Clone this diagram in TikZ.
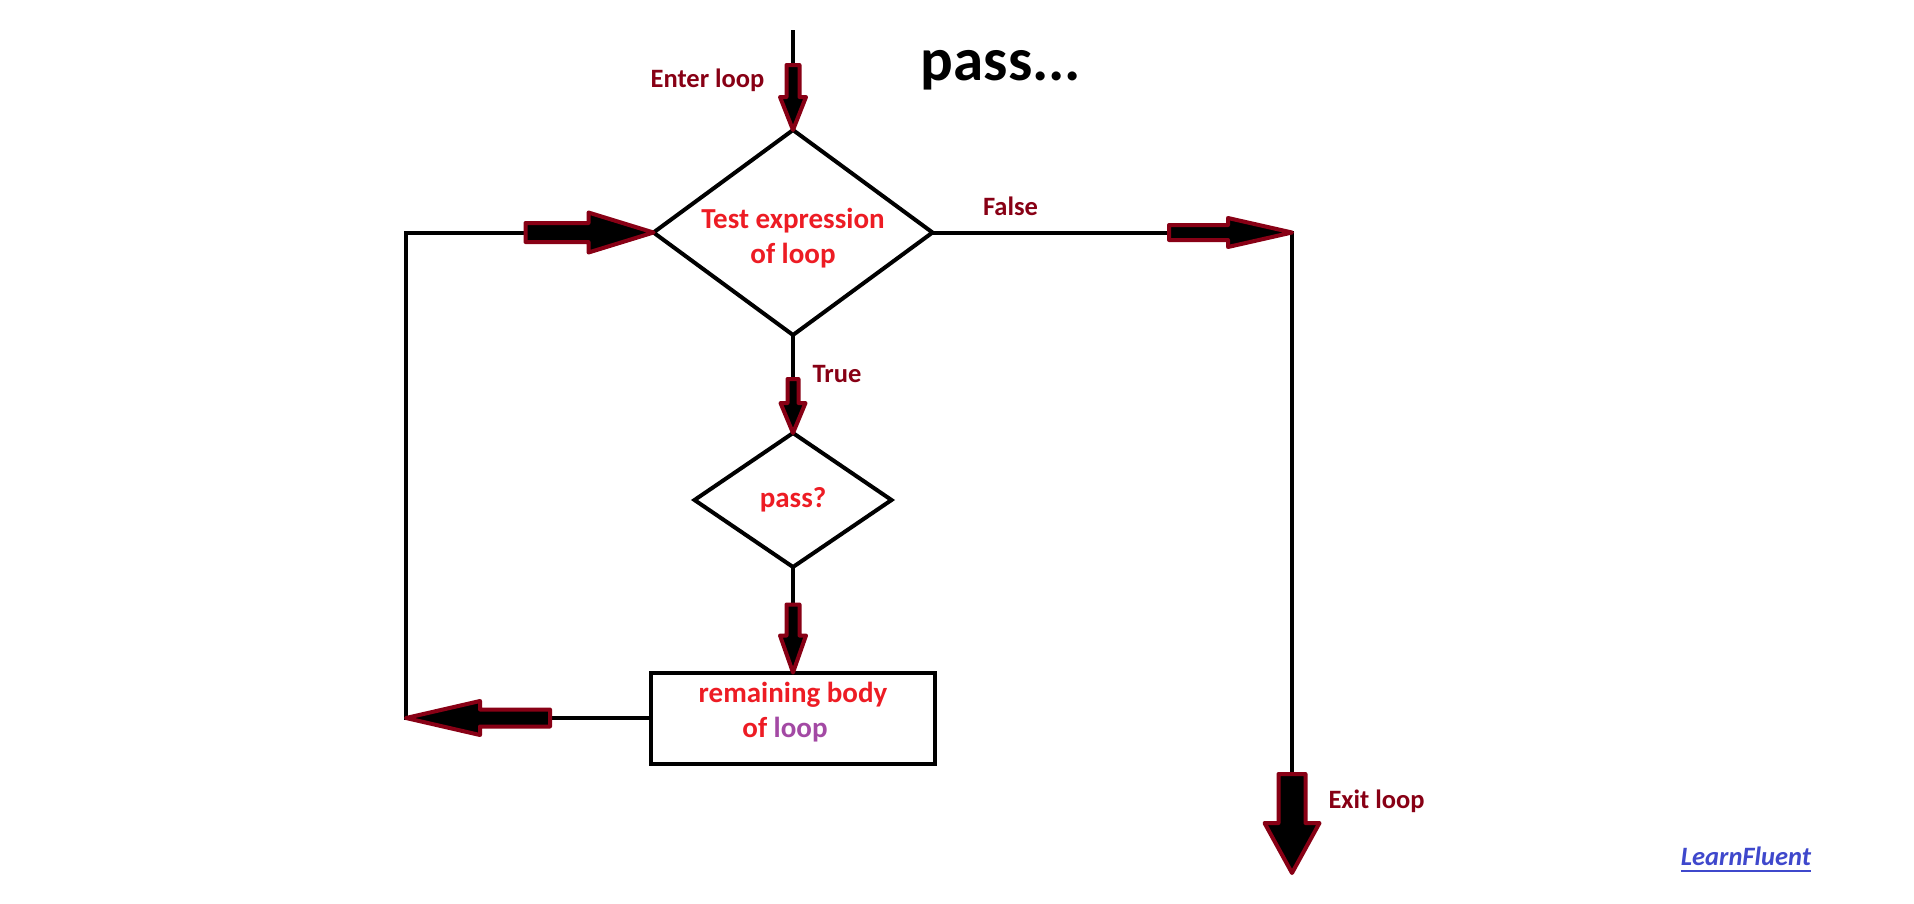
\documentclass[tikz,border=0pt]{standalone}
\usepackage{fontspec}
\setmainfont{Carlito}
\usetikzlibrary{shapes.geometric}
\definecolor{dred}{HTML}{880015}
\definecolor{tred}{HTML}{ED1C24}
\definecolor{tpurple}{HTML}{A349A4}
\definecolor{tblue}{HTML}{3F48CC}
% tip position, direction, total length, head length, shaft half width, head half width
\newcommand\FatArrow[6]{\draw[fatarrow, shift={#1}, rotate=#2] (0,0) -- (-#4,#6) -- (-#4,#5) -- (-#3,#5) -- (-#3,-#5) -- (-#4,-#5) -- (-#4,-#6) -- cycle;}
\newcommand\BrandUline[1]{\setbox0=\hbox{#1}\rlap{\raisebox{-7pt}{\color{tblue}\rule{\wd0}{2pt}}}\box0}
\begin{document}
\begin{tikzpicture}[x={(1pt,0pt)}, y={(0pt,-1pt)},
  conn/.style={line width=4pt, draw=black},
  fatarrow/.style={fill=black, draw=dred, line width=4pt, line join=round},
  dec/.style={diamond, draw=black, line width=4pt, inner sep=0pt, outer sep=0pt},
  procbox/.style={rectangle, draw=black, line width=4pt, inner sep=0pt, outer sep=0pt},
  body/.style={text=tred, font=\fontsize{29}{35}\selectfont\bfseries, align=center, inner sep=0pt},
  lbl/.style={text=dred, font=\fontsize{26.5}{32}\selectfont\bfseries, anchor=base, inner sep=0pt}]
\fill[white] (0,0) rectangle (1914,903);
\useasboundingbox (0,0) rectangle (1914,903);

% shapes
\node[dec, aspect=1.36, minimum width=279pt, minimum height=205pt] (d1) at (793,232.5) {};
\node[dec, aspect=1.47, minimum width=197pt, minimum height=134pt] (d2) at (793,500) {};
\node[procbox, minimum width=284pt, minimum height=91pt] (box) at (793,718) {};

% texts in shapes
\node[body, yshift=-6pt] (d1t) at (d1.center) {Test expression\\of loop};
\node[body] (d2t) at (d2.center) {pass?};
\node[body, yshift=6pt] (boxt) at (box.center) {remaining body\\of \textcolor{tpurple}{loop}\hspace*{16pt}};

% free labels
\node[anchor=base, inner sep=0pt, font=\fontsize{61}{70}\selectfont\bfseries] (title) at (1001,80) {pass...};
\node[lbl] (enter) at (707.5,87) {Enter loop};
\node[lbl] (false) at (1010.5,215) {False};
\node[lbl] (true) at (837,382) {True};
\node[lbl] (exit) at (1376.5,808) {Exit loop};
\node[lbl, text=tblue, font=\fontsize{26.5}{32}\selectfont\bfseries\itshape] (brand) at (1746,865) {\BrandUline{LearnFluent}};

% coordinates
\coordinate (top) at (793,30);
\coordinate (lx) at (406,0);
\coordinate (rx) at (1292,774);
\coordinate (exittip) at (1292,873);

% connectors
\draw[conn] (top) -- (d1.north);
\draw[conn] (d1.south) -- (d2.north);
\draw[conn] (d2.south) -- (box.north);
\draw[conn] (box.west) -- (box.west -| lx) |- (d1.west);
\draw[conn] (d1.east) -| (rx);

% fat arrows
\FatArrow{(d1.north)}{-90}{65}{33}{6.5}{13}
\FatArrow{(d1.west)}{0}{128}{65}{9.5}{20}
\FatArrow{(d1.east -| rx)}{0}{123}{64}{7.5}{14.5}
\FatArrow{(d2.north)}{-90}{54}{30}{5.5}{12.5}
\FatArrow{(box.north)}{-90}{68}{37}{6.5}{13}
\FatArrow{(box.west -| lx)}{180}{144}{74}{8.5}{17}
\FatArrow{(exittip)}{-90}{99}{50}{13.5}{27.5}
\end{tikzpicture}
\end{document}
